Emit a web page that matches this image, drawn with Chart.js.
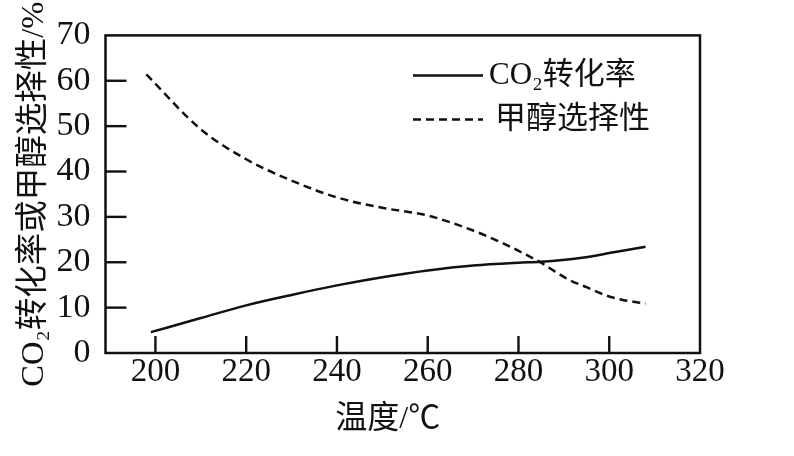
<!DOCTYPE html>
<html>
<head>
<meta charset="utf-8">
<script src="https://cdn.jsdelivr.net/npm/chart.js@4/dist/chart.umd.min.js"></script>
<style>
  html, body { margin: 0; padding: 0; background: #ffffff; }
  canvas { display: block; }
</style>
</head>
<body>
<canvas id="c" width="794" height="456"></canvas>
<script>
// ---- data ----
const conversionTemps = [199, 210, 220, 230, 240, 250, 260, 270, 280, 285, 294, 301, 308];
const conversionValues = [4.6, 7.7, 10.5, 12.8, 14.9, 16.7, 18.2, 19.3, 19.9, 20.1, 21.0, 22.2, 23.4];
const selectivityTemps = [198, 210, 220, 230, 240, 250, 260, 270, 277, 282, 285, 288, 291, 295, 299, 303, 308];
const selectivityValues = [61.4, 49.3, 42.7, 38.0, 34.3, 32.0, 30.3, 27.0, 24.0, 21.5, 19.9, 18.0, 16.2, 14.5, 12.8, 11.7, 10.9];
const xTickValues = [200, 220, 240, 260, 280, 300, 320];
const yTickValues = [0, 10, 20, 30, 40, 50, 60, 70];
const seriesNames = ['CO\u2082转化率', '甲醇选择性'];
const xTitle = '温度/℃';
const yTitle = 'CO\u2082转化率或甲醇选择性/%';

const FONT = '"Liberation Serif", "Noto Sans CJK SC", serif';
const INK = '#111111';

function toPoints(xs, ys) { return xs.map((x, i) => ({ x: x, y: ys[i] })); }

const framePlugin = {
  id: 'frame',
  afterDraw(chart) {
    const ctx = chart.ctx;
    const a = chart.chartArea;
    const xs = chart.scales.x;
    const ys = chart.scales.y;
    ctx.save();
    ctx.setLineDash([]);
    ctx.strokeStyle = INK;
    ctx.fillStyle = INK;
    ctx.lineWidth = 2.5;
    ctx.strokeRect(a.left, a.top, a.right - a.left, a.bottom - a.top);
    // inward tick marks
    xTickValues.forEach(v => {
      const px = xs.getPixelForValue(v);
      if (px > a.left + 3 && px < a.right - 3) {
        ctx.fillRect(px - 1.2, a.bottom - 17, 2.4, 17);
      }
    });
    yTickValues.forEach(v => {
      const py = ys.getPixelForValue(v);
      if (py > a.top + 3 && py < a.bottom - 3) {
        ctx.fillRect(a.left, py - 1.2, 21, 2.4);
      }
    });
    // legend
    const ds = chart.data.datasets;
    const rows = [a.top + 40, a.top + 84];
    ds.forEach((d, i) => {
      const y = rows[i];
      ctx.lineWidth = 2.5;
      ctx.setLineDash(d.borderDash || []);
      ctx.beginPath();
      ctx.moveTo(413, y);
      ctx.lineTo(483, y);
      ctx.stroke();
      ctx.setLineDash([]);
      ctx.font = '31px ' + FONT;
      ctx.textBaseline = 'middle';
      ctx.textAlign = 'left';
      ctx.fillText(d.label, i === 0 ? 489 : 495, y);
    });
    // x title
    ctx.font = '32px ' + FONT;
    ctx.textAlign = 'center';
    ctx.textBaseline = 'middle';
    ctx.fillText(xTitle, (a.left + a.right) / 2 - 15, 420);
    ctx.restore();
  }
};

new Chart(document.getElementById('c'), {
  type: 'line',
  data: {
    datasets: [
      {
        label: seriesNames[0],
        data: toPoints(conversionTemps, conversionValues),
        borderColor: INK,
        borderWidth: 2.5,
        pointRadius: 0,
        cubicInterpolationMode: 'monotone',
        fill: false
      },
      {
        label: seriesNames[1],
        data: toPoints(selectivityTemps, selectivityValues),
        borderColor: INK,
        borderWidth: 2.5,
        borderDash: [8, 5],
        pointRadius: 0,
        cubicInterpolationMode: 'monotone',
        fill: false
      }
    ]
  },
  options: {
    responsive: false,
    animation: false,
    devicePixelRatio: 1,
    layout: { padding: { left: 0, right: 94, top: 33.5, bottom: 0 } },
    plugins: {
      legend: { display: false },
      tooltip: { enabled: false }
    },
    scales: {
      x: {
        type: 'linear',
        min: 189,
        max: 320,
        afterBuildTicks(scale) { scale.ticks = xTickValues.map(v => ({ value: v })); },
        afterFit(scale) { scale.height = 103; },
        grid: { display: false, drawTicks: false },
        border: { display: false },
        ticks: { color: INK, font: { family: FONT, size: 33 }, padding: 0, maxRotation: 0, autoSkip: false }
      },
      y: {
        type: 'linear',
        min: 0,
        max: 70,
        afterBuildTicks(scale) { scale.ticks = yTickValues.map(v => ({ value: v })); },
        afterFit(scale) { scale.width = 105.5; },
        grid: { display: false, drawTicks: false },
        border: { display: false },
        ticks: { color: INK, font: { family: FONT, size: 34 }, padding: 15, autoSkip: false },
        title: {
          display: true,
          text: yTitle,
          color: INK,
          font: { family: FONT, size: 32.5 },
          padding: { top: 15, bottom: 0 }
        }
      }
    }
  },
  plugins: [framePlugin]
});
</script>
</body>
</html>
